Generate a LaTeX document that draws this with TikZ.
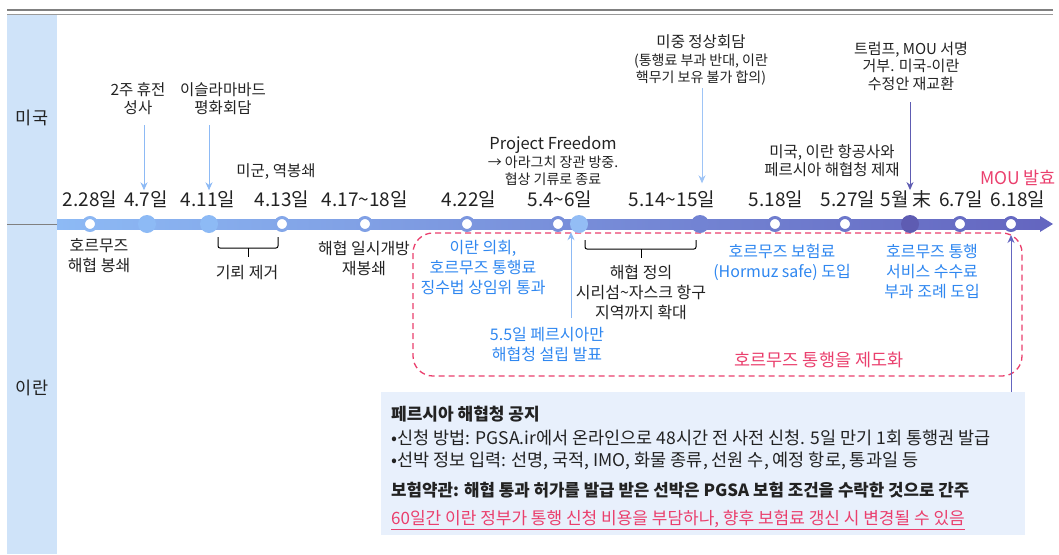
\documentclass[tikz,border=0pt]{standalone}
\usepackage{fontspec}
\setmainfont{Noto Sans CJK KR}
\usetikzlibrary{positioning, arrows.meta, calc}
\definecolor{barL}{HTML}{8DBAF5}
\definecolor{barR}{HTML}{6466C0}
\definecolor{lane}{HTML}{CFE3F9}
\definecolor{irblue}{HTML}{2F87F0}
\definecolor{hotpink}{HTML}{EA3F6D}
\definecolor{notebg}{HTML}{E8F0FC}
\definecolor{evpurple}{HTML}{5E5CB2}
\definecolor{ink}{HTML}{222222}

\begin{document}
\begin{tikzpicture}[x=1pt,y=-1pt,text=ink,
    date/.style={font=\fontsize{19}{20}\selectfont, inner sep=0pt},
    lbl/.style={font=\fontsize{16}{20}\selectfont, align=center, inner sep=0pt},
    upper/.style={font=\fontsize{15.5}{18}\selectfont, align=center, inner sep=0pt},
    tight/.style={font=\fontsize{15}{17.5}\selectfont, align=center, inner sep=0pt},
    iran/.style={lbl, text=irblue},
    ring/.style={circle, fill=white, draw=#1, line width=3pt, minimum size=13pt, inner sep=0pt},
    blob/.style={circle, fill=#1, minimum size=18pt, inner sep=0pt},
    ptr/.style={->, >={Stealth[length=8pt,width=7pt]}, line width=1pt, color=#1},
    brk/.style={line width=1pt, rounded corners=2pt},
    notetxt/.style={font=\fontsize{17.5}{18}\selectfont, anchor=west, inner sep=0pt}]
    \useasboundingbox (0,0) rectangle (1059,554);

    \draw[gray, line width=2pt] (7,10) -- (1053,10);
    \draw[gray!80, line width=0.8pt] (7,14) -- (1053,14);

    \fill[lane] (7,15) rectangle (57,554);
    \draw[gray] (7,224) -- (57,224);
    \node[font=\fontsize{17.5}{18}\selectfont] (us) at (32,118) {미국};
    \node[font=\fontsize{17.5}{18}\selectfont] (ir) at (32,388) {이란};

    \draw[hotpink, line width=1.3pt, dash pattern=on 6pt off 4pt, rounded corners=20pt]
        (413,233) rectangle (1022,376);

    \shade[left color=barL, right color=barR] (57,219) rectangle (1040,229);
    \fill[barR] (1040,216) -- (1053,224) -- (1040,232) -- cycle;

    \node[ring=barL!97!barR] (c228) at (90,224) {};
    \node[blob=barL] (c47) at (147,224) {};
    \node[blob=barL] (c411) at (209,224) {};
    \node[ring=barL!77!barR] (c413) at (282,224) {};
    \node[ring=barL!69!barR] (c417) at (365,224) {};
    \node[ring=barL!58!barR] (c422) at (467,224) {};
    \node[ring=barL!49!barR] (c54) at (558,224) {};
    \node[blob=barL!95!white] (c55) at (579,224) {};
    \node[blob=barL!35!barR] (c514) at (700,224) {};
    \node[ring=barL!27!barR] (c518) at (775,224) {};
    \node[ring=barL!20!barR] (c527) at (845,224) {};
    \node[blob=evpurple] (c5e) at (910,224) {};
    \node[ring=barL!8!barR] (c67) at (960,224) {};
    \node[ring=barL!3!barR] (c618) at (1011,224) {};

    \node[date] (d228) at (90,199) {2.28일};
    \node[date] (d47) at (146,199) {4.7일};
    \node[date] (d411) at (208,199) {4.11일};
    \node[date] (d413) at (282,199) {4.13일};
    \node[date] (d417) at (365,199) {4.17\textasciitilde 18일};
    \node[date] (d422) at (469,199) {4.22일};
    \node[date] (d54) at (560,199) {5.4\textasciitilde 6일};
    \node[date] (d514) at (672,199) {5.14\textasciitilde 15일};
    \node[date] (d518) at (776,199) {5.18일};
    \node[date] (d527) at (848,199) {5.27일};
    \node[date] (d5e) at (906,199) {5월\,末};
    \node[date] (d67) at (961,199) {6.7일};
    \node[date] (d618) at (1018,199) {6.18일};

    \node[upper] (u47) at (138,99) {2주 휴전\\성사};
    \node[upper] (u411) at (223,99) {이슬라마바드\\평화회담};
    \node[upper] (u413) at (276,172) {미군, 역봉쇄};
    \node[tight] (u54) at (553,161) {{\fontsize{16.5}{17.5}\selectfont Project Freedom}\\{\fontsize{14}{17}\selectfont → 아라그치 장관 방중.}\\{\fontsize{14}{17}\selectfont 협상 기류로 종료}};
    \node[tight] (u514) at (701,60) {{\fontsize{15.5}{17.5}\selectfont 미중 정상회담}\\{\fontsize{14}{17.5}\selectfont (통행료 부과 반대, 이란}\\{\fontsize{14}{17.5}\selectfont 핵무기 보유 불가 합의)}};
    \node[upper] (u527) at (832,161) {미국, 이란 항공사와\\페르시아 해협청 제재};
    \node[tight] (u5e) at (911,66) {트럼프, MOU 서명\\거부. 미국-이란\\수정안 재교환};
    \node[lbl, font=\fontsize{17.5}{18}\selectfont, text=hotpink] (u618) at (1018,178) {MOU 발효};

    \coordinate (a47) at (144,125);
    \coordinate (a411) at (209,125);
    \coordinate (a514) at (702,88);
    \coordinate (a5e) at (910,102);
    \coordinate (a55) at (571,318);
    \path[ptr=barL]
        (a47) edge (a47 |- d47.north)
        (a411) edge (a411 |- d411.north)
        (a55) edge ($(a55 |- c55.south)+(0,-1)$);
    \path[ptr=barL!85!white]
        (a514) edge ($(a514 |- d514.north)+(0,-7)$);
    \path[ptr=evpurple]
        (a5e) edge (a5e |- d5e.north);

    \node[lbl] (l228) at (99,256) {호르무즈\\해협 봉쇄};
    \draw[brk] (218,237) -- (218,248) -- (278,248) -- (278,237);
    \draw[brk] (248,248) -- (248,257);
    \node[lbl] (l411) at (247,273) {기뢰 제거};
    \node[lbl] (l417) at (364,258) {해협 일시개방\\재봉쇄};
    \node[iran] (l422) at (483,268) {이란 의회,\\호르무즈 통행료\\징수법 상임위 통과};
    \node[iran] (l55) at (547,345) {5.5일 페르시아만\\해협청 설립 발표};
    \draw[brk] (585,240) -- (585,249) -- (696,249) -- (696,240);
    \draw[brk] (641,249) -- (641,258);
    \node[lbl] (l514) at (641,292) {해협 정의\\시리섬\textasciitilde 자스크 항구\\지역까지 확대};
    \node[iran] (l518) at (782,262) {호르무즈 보험료\\(Hormuz safe) 도입};
    \node[iran] (l5e) at (932,272) {호르무즈 통행\\서비스 수수료\\부과 조례 도입};
    \node[lbl, font=\fontsize{17.5}{18}\selectfont, text=hotpink] (inst) at (819,360) {호르무즈 통행을 제도화};

    \node[fill=notebg, minimum width=644pt, minimum height=143pt, anchor=north west, inner sep=0pt] (note) at (381,392) {};
    \node[notetxt, font=\bfseries\fontsize{17}{18}\selectfont] (n1) at (391,414) {페르시아 해협청 공지};
    \node[notetxt] (n2) at (391,438) {•신청 방법: PGSA.ir에서 온라인으로 48시간 전 사전 신청. 5일 만기 1회 통행권 발급};
    \node[notetxt] (n3) at (391,461) {•선박 정보 입력: 선명, 국적, IMO, 화물 종류, 선원 수, 예정 항로, 통과일 등};
    \node[notetxt, font=\bfseries\fontsize{16.8}{18}\selectfont] (n4) at (391,490) {보험약관: 해협 통과 허가를 발급 받은 선박은 PGSA 보험 조건을 수락한 것으로 간주};
    \node[notetxt, font=\fontsize{17}{18}\selectfont, text=hotpink] (n5) at (391,520) {\underline{60일간 이란 정부가 통행 신청 비용을 부담하나, 향후 보험료 갱신 시 변경될 수 있음}};

    \path[ptr=barR]
        (note.north -| c618) edge ($(c618.south)+(0,3)$);
\end{tikzpicture}
\end{document}
